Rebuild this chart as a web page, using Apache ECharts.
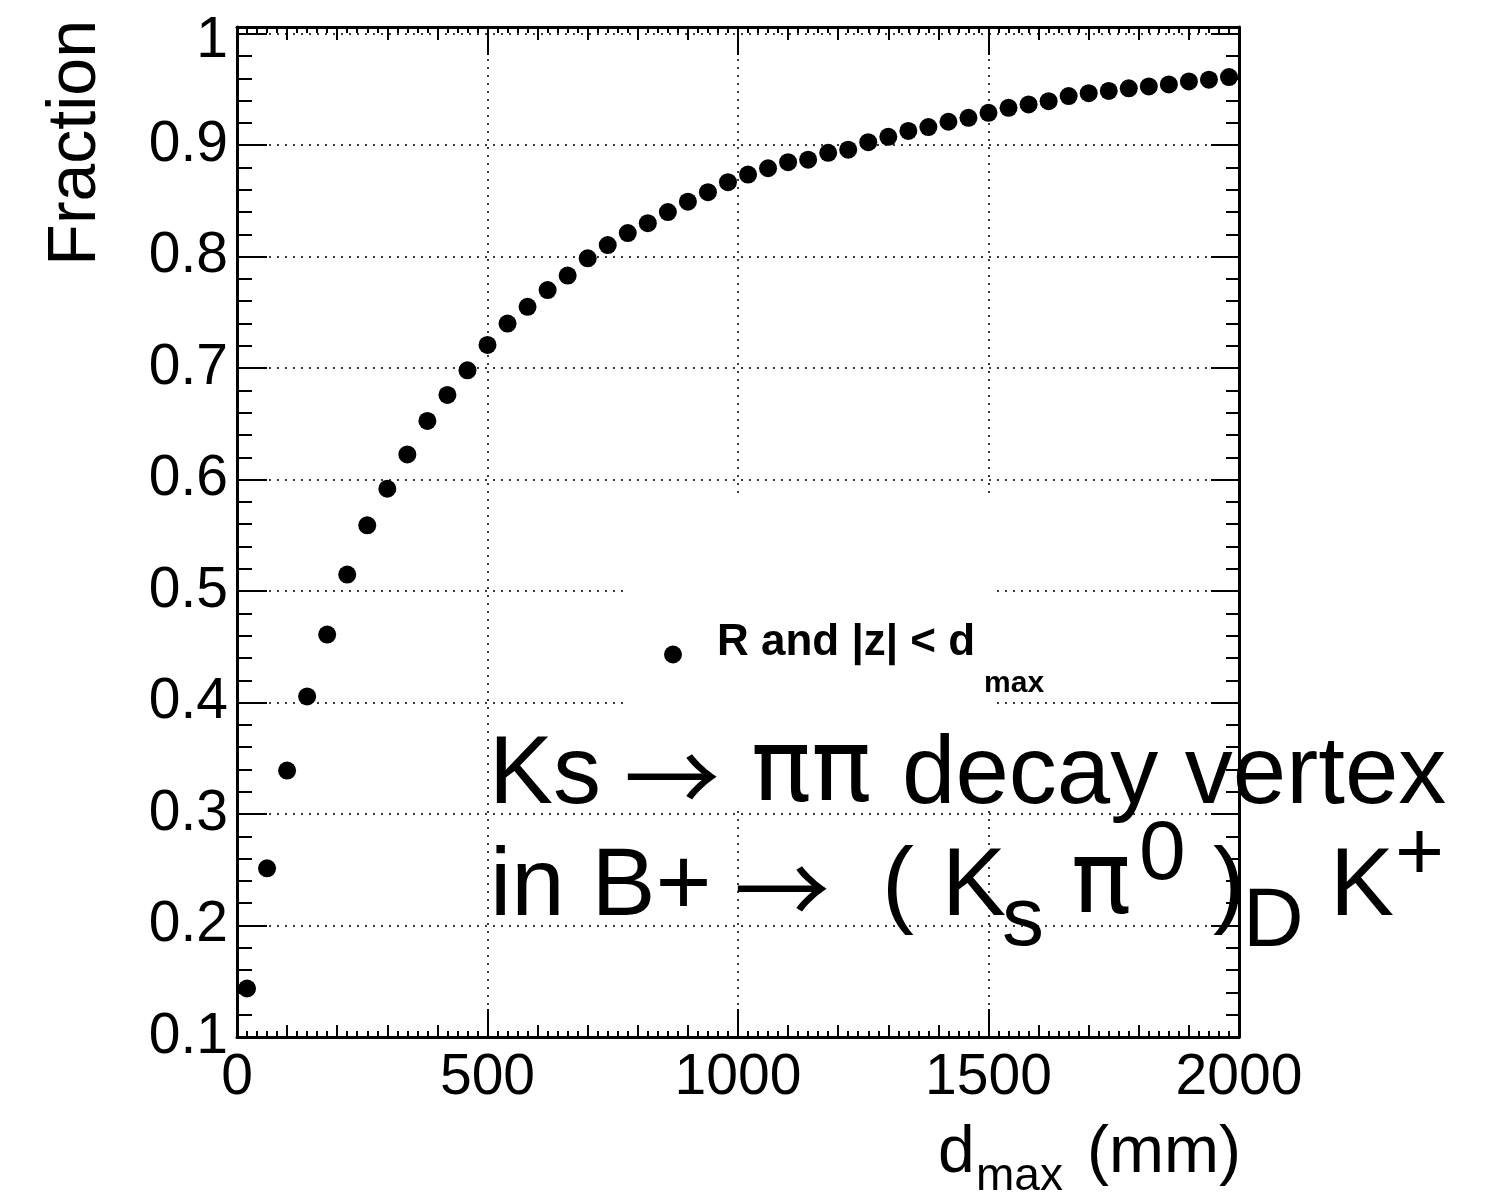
<!DOCTYPE html>
<html>
<head>
<meta charset="utf-8">
<script src="https://cdn.jsdelivr.net/npm/echarts@6/dist/echarts.min.js"></script>
<style>
  html, body { margin: 0; padding: 0; background: #fff; }
  #chart { width: 1496px; height: 1194px; }
</style>
</head>
<body>
<div id="chart"></div>
<script>
// Bin centres of d_max (mm), 40 mm bins
const dmax = [
  20, 60, 100, 140, 180, 220, 260, 300, 340, 380,
  420, 460, 500, 540, 580, 620, 660, 700, 740, 780,
  820, 860, 900, 940, 980, 1020, 1060, 1100, 1140, 1180,
  1220, 1260, 1300, 1340, 1380, 1420, 1460, 1500, 1540, 1580,
  1620, 1660, 1700, 1740, 1780, 1820, 1860, 1900, 1940, 1980
];
// Fraction of Ks decay vertices with R and |z| below d_max
const fraction = [
  0.1435, 0.2513, 0.339, 0.4055, 0.461, 0.5148, 0.559, 0.5918, 0.6226, 0.6526,
  0.676, 0.698, 0.7208, 0.740, 0.755, 0.770, 0.783, 0.7985, 0.8104, 0.8212,
  0.830, 0.840, 0.8493, 0.8578, 0.8668, 0.8736, 0.8793, 0.8847, 0.887, 0.8931,
  0.896, 0.9027, 0.9075, 0.9128, 0.9162, 0.921, 0.9245, 0.929, 0.9335, 0.9365,
  0.9395, 0.944, 0.9466, 0.9486, 0.951, 0.9527, 0.9545, 0.9572, 0.9587, 0.9611
];
const xTickValues = [0, 500, 1000, 1500, 2000];
const xTickLabels = ['0', '500', '1000', '1500', '2000'];
const yTickValues = [0.1, 0.2, 0.3, 0.4, 0.5, 0.6, 0.7, 0.8, 0.9, 1.0];
const yTickLabels = ['0.1', '0.2', '0.3', '0.4', '0.5', '0.6', '0.7', '0.8', '0.9', '1'];
const seriesName = 'R and |z| < d_max';

const FONT = '"Liberation Sans", Arial, Helvetica, sans-serif';
const SYMBOL_FONT = '"Noto Sans CJK SC", "DejaVu Sans", sans-serif';
const GREEK_FONT = '"DejaVu Sans", "Liberation Sans", sans-serif';
const K_MID = 0.347;   // alphabetic baseline sits this many em below the 'middle' line

function labelFor(values, labels, v) {
  for (let i = 0; i < values.length; i++) {
    if (Math.abs(values[i] - v) < 1e-6) return labels[i];
  }
  return '';
}

// text placed by its alphabetic baseline
function text(str, x, baseline, size, opt) {
  opt = opt || {};
  const align = opt.align || 'left';
  return {
    type: 'text',
    x: x,
    y: baseline - K_MID * size,
    z: 10,
    style: {
      text: str,
      font: (opt.weight || 'normal') + ' ' + size + 'px ' + (opt.family || FONT),
      fill: '#000',
      textFill: '#000',
      align: align,
      textAlign: align,
      verticalAlign: 'middle',
      textVerticalAlign: 'middle'
    }
  };
}

const black = '#000';
const tickStyle = { color: black, width: 2 };
const gridLine = { color: '#3a3a3a', width: 2, type: [2, 6] };

const chart = echarts.init(document.getElementById('chart'), null, { renderer: 'canvas' });

chart.setOption({
  animation: false,
  backgroundColor: '#fff',
  grid: {
    left: 237, top: 27, width: 1002, height: 1010,
    containLabel: false,
    outerBoundsMode: 'none'
  },
  xAxis: [
    {
      type: 'value', position: 'bottom', min: 0, max: 2000, interval: 500,
      axisLine: { show: true, onZero: false, lineStyle: { color: black, width: 3 } },
      axisTick: { show: true, inside: true, length: 28, lineStyle: tickStyle },
      minorTick: { show: true, splitNumber: 5, length: 12, lineStyle: tickStyle },
      axisLabel: {
        show: true, margin: 13, fontSize: 57, fontFamily: FONT, color: black,
        formatter: v => labelFor(xTickValues, xTickLabels, v)
      },
      splitLine: { show: true, lineStyle: gridLine }
    },
    {
      type: 'value', position: 'bottom', min: 0, max: 2000, interval: 20,
      axisLine: { show: false },
      axisTick: { show: true, inside: true, length: 6, lineStyle: tickStyle },
      axisLabel: { show: false },
      splitLine: { show: false }
    },
    {
      type: 'value', position: 'top', min: 0, max: 2000, interval: 500,
      axisLine: { show: true, onZero: false, lineStyle: { color: black, width: 3 } },
      axisTick: { show: true, inside: true, length: 28, lineStyle: tickStyle },
      minorTick: { show: true, splitNumber: 5, length: 13, lineStyle: tickStyle },
      axisLabel: { show: false },
      splitLine: { show: false }
    },
    {
      type: 'value', position: 'top', min: 0, max: 2000, interval: 20,
      axisLine: { show: false },
      axisTick: { show: true, inside: true, length: 6, lineStyle: tickStyle },
      axisLabel: { show: false },
      splitLine: { show: false }
    }
  ],
  yAxis: [
    {
      type: 'value', position: 'left', min: 0.1, max: 1.006, interval: 0.1,
      axisLine: { show: true, onZero: false, lineStyle: { color: black, width: 3 } },
      axisTick: { show: true, inside: true, length: 30, lineStyle: tickStyle },
      minorTick: { show: true, splitNumber: 5, length: 15, lineStyle: tickStyle },
      axisLabel: {
        show: true, margin: 9, fontSize: 57, fontFamily: FONT, color: black,
        showMaxLabel: false,
        formatter: v => {
          const s = labelFor(yTickValues, yTickLabels, v);
          return s === '1' ? '{top|1}' : s;
        },
        rich: {
          top: { fontSize: 57, fontFamily: FONT, color: black, padding: [16, 0, 0, 0] }
        }
      },
      splitLine: { show: true, lineStyle: gridLine }
    },
    {
      type: 'value', position: 'right', min: 0.1, max: 1.006, interval: 0.1,
      axisLine: { show: true, onZero: false, lineStyle: { color: black, width: 3 } },
      axisTick: { show: true, inside: true, length: 28, lineStyle: tickStyle },
      minorTick: { show: true, splitNumber: 5, length: 13, lineStyle: tickStyle },
      axisLabel: { show: false },
      splitLine: { show: false }
    }
  ],
  legend: {
    show: true,
    left: 664,
    top: 610,
    padding: 0,
    icon: 'circle',
    itemWidth: 18,
    itemHeight: 18,
    selectedMode: false,
    z: 6,
    data: [seriesName],
    itemStyle: { color: black, opacity: 1 },
    formatter: () => '{g| }{a|R and |z| < d}{b|max}',
    textStyle: {
      color: black,
      fontFamily: FONT,
      rich: {
        g: { width: 30, fontSize: 44, fontFamily: FONT, verticalAlign: 'top' },
        a: { fontSize: 44, fontWeight: 'bold', fontFamily: FONT, color: black,
             verticalAlign: 'top', padding: [11, 0, 0, 0] },
        b: { fontSize: 30, fontWeight: 'bold', fontFamily: FONT, color: black,
             verticalAlign: 'top', padding: [59, 0, 0, 9] }
      }
    }
  },
  series: [
    {
      name: seriesName,
      type: 'scatter',
      xAxisIndex: 0,
      yAxisIndex: 0,
      symbol: 'circle',
      symbolSize: 18,
      itemStyle: { color: black, opacity: 1 },
      z: 3,
      data: dmax.map((d, i) => [d, fraction[i]])
    }
  ],
  graphic: {
    elements: [
      // white legend box
      { type: 'rect', z: 1, shape: { x: 624, y: 497, width: 373, height: 311 },
        style: { fill: '#fff' } },
      // y-axis title
      {
        type: 'text', x: 100 - K_MID * 68, y: 20, rotation: Math.PI / 2, z: 10,
        style: { text: 'Fraction', font: '68px ' + FONT, fill: black,
                 align: 'right', textAlign: 'right',
                 verticalAlign: 'middle', textVerticalAlign: 'middle' }
      },
      // x-axis title: d_max (mm)
      text('d', 938, 1177, 66),
      text('max', 976, 1193, 46),
      text('(mm)', 1241, 1177, 66, { align: 'right' }),
      // annotation, first line: Ks -> pi pi decay vertex
      text('Ks', 489, 810, 96),
      text('\u2192', 624, 810, 96, { family: SYMBOL_FONT }),
      text('\u03c0\u03c0', 751, 810, 100, { family: GREEK_FONT }),
      text('decay vertex', 902, 810, 96),
      // annotation, second line: in B+ -> ( K_s pi^0 )_D K^+
      text('in B+', 490, 922, 96),
      text('\u2192', 734, 922, 96, { family: SYMBOL_FONT }),
      text('(', 882, 922, 96),
      text('K', 942, 922, 96),
      text('s', 1002, 951, 84),
      text('\u03c0', 1071, 922, 100, { family: GREEK_FONT }),
      text('0', 1139, 885, 84),
      text(')', 1213, 922, 96),
      text('D', 1243, 952, 84),
      text('K', 1330, 922, 96),
      text('+', 1395, 885, 84)
    ]
  }
});
</script>
</body>
</html>
